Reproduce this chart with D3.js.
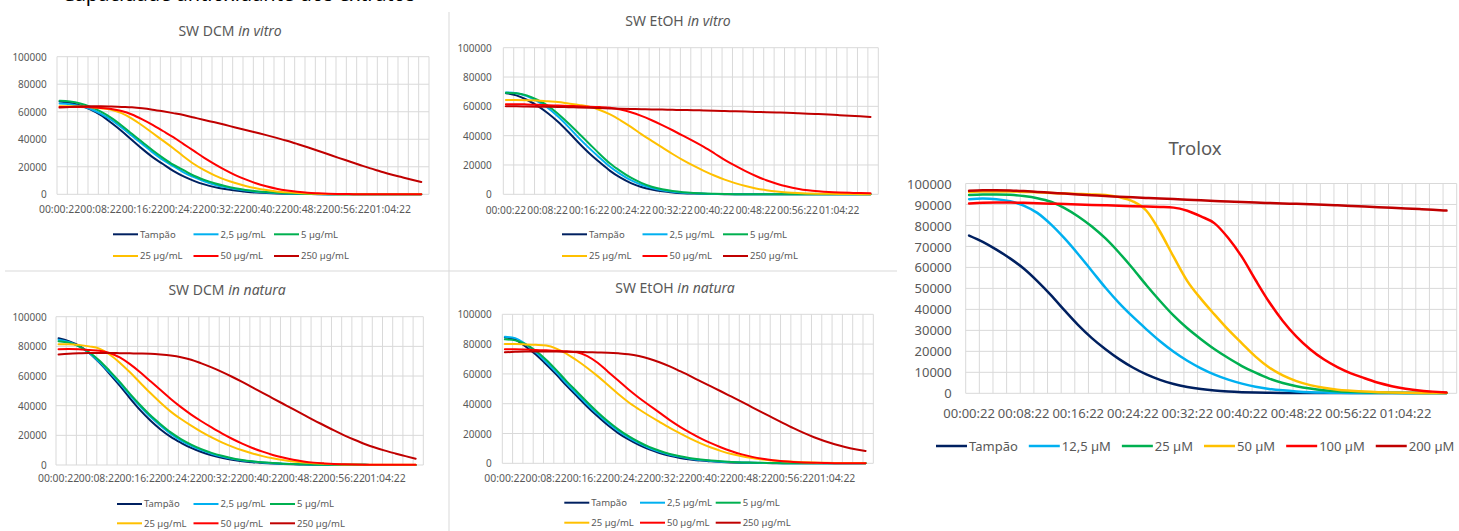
<!DOCTYPE html>
<html><head><meta charset="utf-8">
<script src="https://cdn.jsdelivr.net/npm/d3@7"></script>
<style>body{margin:0;background:#fff}svg{display:block}</style>
</head><body>
<svg id="c" width="1459" height="531"></svg>
<script>
// ---------- DATA ----------
const categories = [
"00:00:22","00:01:22","00:02:22","00:03:22","00:04:22","00:05:22","00:06:22","00:07:22","00:08:22","00:09:22",
"00:10:22","00:11:22","00:12:22","00:13:22","00:14:22","00:15:22","00:16:22","00:17:22","00:18:22","00:19:22",
"00:20:22","00:21:22","00:22:22","00:23:22","00:24:22","00:25:22","00:26:22","00:27:22","00:28:22","00:29:22",
"00:30:22","00:31:22","00:32:22","00:33:22","00:34:22","00:35:22","00:36:22","00:37:22","00:38:22","00:39:22",
"00:40:22","00:41:22","00:42:22","00:43:22","00:44:22","00:45:22","00:46:22","00:47:22","00:48:22","00:49:22",
"00:50:22","00:51:22","00:52:22","00:53:22","00:54:22","00:55:22","00:56:22","00:57:22","00:58:22","00:59:22",
"01:00:22","01:01:22","01:02:22","01:03:22","01:04:22","01:05:22","01:06:22","01:07:22","01:08:22","01:09:22",
"01:10:22","01:11:22"];
const sampleTimes = [
"00:00:22","00:02:22","00:04:22","00:06:22","00:08:22","00:10:22","00:12:22","00:14:22","00:16:22","00:18:22",
"00:20:22","00:22:22","00:24:22","00:26:22","00:28:22","00:30:22","00:32:22","00:34:22","00:36:22","00:38:22",
"00:40:22","00:42:22","00:44:22","00:46:22","00:48:22","00:50:22","00:52:22","00:54:22","00:56:22","00:58:22",
"01:00:22","01:02:22","01:04:22","01:06:22","01:08:22","01:10:22"];
const xTickLabels = ["00:00:22","00:08:22","00:16:22","00:24:22","00:32:22","00:40:22","00:48:22","00:56:22","01:04:22"];
const yTicksExtract = [0,20000,40000,60000,80000,100000];
const yTicksTrolox = [0,10000,20000,30000,40000,50000,60000,70000,80000,90000,100000];
const extractNames = ["Tampão","2,5 µg/mL","5 µg/mL","25 µg/mL","50 µg/mL","250 µg/mL"];
const troloxNames = ["Tampão","12,5 µM","25 µM","50 µM","100 µM","200 µM"];
const seriesColors = ["#002060","#00B0F0","#00B050","#FFC000","#FF0000","#C00000"];
const valueUnit = 1000; // series values below are in thousands

// SW DCM in vitro
const dcmVitro = [
[67.5,66.5,64.5,61.5,57.5,52,46,39.5,33,27,22,17,13,9.8,7.2,5.2,3.8,2.7,1.9,1.3,0.9,0.6,0.4,0.3,0.2,0.1,0.1,0.1,0,0,0,0,0,0,0,0],
[66,65.5,64,62,58.5,54,48.5,42.5,36.5,30.5,25,20.5,16,12.5,9.5,7,5.2,3.8,2.7,1.9,1.3,0.9,0.6,0.4,0.25,0.15,0.1,0.1,0.1,0,0,0,0,0,0,0],
[68,67.5,66,63.5,60,55.5,50,44,38,32,26.5,21.5,17.5,13.5,10.5,8,6,4.4,3.2,2.3,1.6,1.1,0.7,0.5,0.3,0.2,0.1,0.1,0.1,0,0,0,0,0,0,0],
[64,64,63.8,63.3,62.5,61.5,59,55,50,44.5,39,33.5,27.5,22,17.5,13.8,10.7,8.2,6.1,4.4,3.1,2.1,1.4,0.9,0.55,0.35,0.2,0.1,0.1,0.1,0,0,0,0,0,0],
[63.5,63.5,63.5,63.3,62.8,62,60.5,58,54.5,50.5,46,41.5,36.5,31.5,26.5,22,17.8,14,10.8,8,5.8,4,2.7,1.8,1.1,0.7,0.4,0.25,0.15,0.1,0.1,0,0,0,0,0],
[63,63.5,63.8,64,64,63.8,63.5,63.2,62.5,61.5,60.3,59,57.6,55.8,54,52.3,50.5,48.6,46.8,44.9,43,41,38.9,36.6,34.2,31.7,29.1,26.5,24,21.5,19,16.8,14.6,12.7,10.8,9]];

// SW EtOH in vitro
const etohVitro = [
[69,67.5,64.5,60.5,55.5,49.5,42.5,35,28,21.8,16,11.3,7.6,5,3.3,2.1,1.3,0.8,0.5,0.3,0.2,0.1,0.1,0.1,0,0,0,0,0,0,0,0,0,0,0,0],
[69.5,69,67,63.5,59,53,46,38.5,31.5,25,18.8,13.8,9.6,6.5,4.3,2.7,1.7,1.1,0.7,0.4,0.25,0.15,0.1,0,0,0,0,0,0,0,0,0,0,0,0,0],
[69.2,69,67.5,64.5,60.5,55,48.5,41.5,34.5,27.5,21,15.8,11.3,7.8,5.2,3.4,2.2,1.4,0.9,0.55,0.35,0.2,0.1,0.1,0,0,0,0,0,0,0,0,0,0,0,0],
[64.3,64.3,64.2,64,63.5,63,62,61,59.8,57.5,54.5,50.5,46,41,36.5,32,27.5,23.3,19.5,16,12.8,10,7.6,5.6,4,2.8,1.9,1.3,0.9,0.6,0.4,0.3,0.2,0.15,0.1,0.1],
[61.5,61.5,61.3,61,60.8,60.5,60.3,60,59.8,59.5,59,57.8,56,53.5,50.5,47.2,43.7,40,36.2,32.3,28,23.5,19.5,15.8,12.5,9.6,7.2,5.3,3.8,2.7,2,1.5,1.2,1,0.9,0.8],
[60,60,59.9,59.8,59.7,59.6,59.4,59.2,59,58.8,58.6,58.4,58.2,58,57.9,57.8,57.6,57.5,57.4,57.2,57,56.8,56.6,56.4,56.2,56,55.8,55.6,55.3,55,54.7,54.4,54,53.6,53.2,52.8]];

// SW DCM in natura
const dcmNatura = [
[85.5,83.5,80.5,75.5,69,61.5,53.5,45,37,30,24,19,15,11.5,8.8,6.6,4.9,3.6,2.6,1.9,1.4,1,0.7,0.5,0.35,0.25,0.2,0.1,0.1,0.1,0.1,0,0,0,0,0],
[84.5,83,80,75.5,69.5,62.5,55,47,39.5,32.5,26.5,21,16.5,13,10,7.6,5.7,4.2,3.1,2.3,1.7,1.2,0.9,0.6,0.45,0.3,0.2,0.1,0.1,0.1,0.1,0,0,0,0,0],
[83.5,82.5,80,76,70.5,63.5,56,48,40.5,33.5,27.5,22,17.5,13.8,10.7,8.2,6.2,4.6,3.4,2.5,1.8,1.3,0.9,0.65,0.45,0.3,0.2,0.1,0.1,0.1,0.1,0,0,0,0,0],
[81.5,81.5,81,80,78.5,74.5,69,62.5,55.5,48.5,42,36,31,26.5,22.3,18.6,15.3,12.4,9.9,7.8,6,4.5,3.3,2.4,1.7,1.2,0.8,0.55,0.4,0.3,0.2,0.1,0.1,0.1,0.1,0.1],
[78,78.2,78,77.5,77,75.5,72.5,68,62.5,56.5,50.5,44.5,39,34,29.5,25.3,21.3,17.7,14.4,11.5,9,6.8,5,3.5,2.4,1.6,1.1,0.7,0.5,0.35,0.25,0.2,0.15,0.1,0.1,0.1],
[74.5,75,75.3,75.5,75.5,75.5,75.4,75.3,75.2,75,74.5,73.8,72.7,71,68.5,65.8,62.8,59.5,56,52.3,48.7,45,41.3,37.6,34,30.3,26.8,23.3,20,17,14.2,11.8,9.7,7.8,6,4.2]];

// SW EtOH in natura
const etohNatura = [
[84.5,83,78.5,73,66.5,59.5,52,45,38,31.5,25.5,20.3,16,12.3,9.3,6.9,5,3.6,2.6,1.8,1.3,0.9,0.6,0.4,0.3,0.2,0.1,0.1,0.1,0,0,0,0,0,0,0],
[85,84,80,74.5,68,61,53.5,46.5,39.5,33,27,21.8,17.3,13.5,10.3,7.8,5.8,4.3,3.1,2.2,1.6,1.1,0.8,0.55,0.4,0.25,0.2,0.1,0.1,0.1,0,0,0,0,0,0],
[83.2,82.5,80,75.5,69.5,62.5,55,48,41,34.3,28.2,22.8,18.2,14.3,11,8.4,6.3,4.7,3.4,2.5,1.8,1.3,0.9,0.6,0.45,0.3,0.2,0.1,0.1,0.1,0,0,0,0,0,0],
[80,80,79.8,79.5,79,77,73.5,69,64,58.5,52.5,46.5,41,36.3,31.9,27.8,23.8,20.1,16.6,13.4,10.6,8.2,6.2,4.7,3.5,2.6,1.9,1.4,1,0.7,0.5,0.35,0.25,0.2,0.15,0.1],
[76.5,76.5,76.3,76,75.8,75.5,75.2,74.5,72,67.5,61.5,55.5,49.5,44,39,34,29,24.5,20.5,16.8,13.5,10.6,8.1,6,4.3,3,2,1.3,0.85,0.55,0.35,0.2,0.1,0.1,0.1,0.1],
[74.5,74.8,75,75,75,75,74.9,74.8,74.6,74.4,74.2,73.8,73.2,72,70.2,67.8,65,61.8,58.5,55,51.6,48.2,44.7,41.2,37.6,34,30.5,27,23.6,20.4,17.5,15,12.8,11,9.5,8.3]];

// Trolox
const trolox = [
[75.2,72.2,68.5,64.3,59.5,53.5,46.8,39.5,32.5,26.3,21,16.3,12.3,9,6.4,4.4,3,2,1.3,0.85,0.55,0.35,0.25,0.15,0.1,0.1,0.1,0.1,0.1,0.1,0.1,0.1,0.1,0.1,0.1,0.1],
[92.5,92.8,92.5,91.5,89.5,86,80.5,73.8,66.3,58.3,50.3,43,36.5,30.5,24.8,19.8,15.5,11.9,8.9,6.5,4.6,3.1,2.1,1.4,0.9,0.55,0.35,0.25,0.2,0.1,0.1,0.1,0.1,0.1,0.1,0.1],
[94.5,94.8,94.8,94.6,94,93,91.3,88.3,84.3,79.5,73.8,67,59.5,51.5,44,37,31,25.8,21,16.8,13,9.8,7,4.9,3.4,2.3,1.5,1,0.7,0.5,0.35,0.25,0.2,0.15,0.1,0.1],
[96,96.2,96.2,96.2,96,95.8,95.5,95.2,95,94.8,94.5,93.5,91.5,87,77,65,53.5,45,37.5,30.3,23.8,17.5,12.3,8.5,5.8,3.9,2.6,1.7,1.2,0.8,0.55,0.4,0.3,0.2,0.15,0.1],
[90.5,90.8,90.9,90.9,90.8,90.6,90.4,90.2,90,89.8,89.6,89.4,89.2,89,88.8,88.5,87,84.3,81,74,65,54,43.5,34.5,27,21,16.2,12.5,9.5,7.2,5,3.4,2.2,1.3,0.8,0.4],
[96.5,96.8,96.8,96.7,96.4,96,95.6,95.2,94.8,94.4,94,93.7,93.4,93.1,92.8,92.6,92.3,92,91.7,91.4,91.2,90.9,90.7,90.5,90.3,90.1,89.9,89.6,89.3,89,88.7,88.4,88.1,87.8,87.5,87.1]];

// ---------- DRAWING ----------
const FONT = "'Noto Sans', 'Open Sans', sans-serif";
const TXT = "#595959";
const GRID = "#d9d9d9";
const svg = d3.select("#c");

// heading cropped at the very top (as in the source screenshot)
svg.append("text").attr("x",62).attr("y",1).attr("font-family",FONT).attr("font-size",20)
  .attr("fill","#000").text("Capacidade antioxidante dos extratos");

// panel separators
svg.append("line").attr("x1",449).attr("x2",449).attr("y1",12).attr("y2",531).attr("stroke",GRID);
svg.append("line").attr("x1",5).attr("x2",897).attr("y1",271).attr("y2",271).attr("stroke",GRID);

function drawChart(cfg){
  const g = svg.append("g");
  const x = d3.scaleBand().domain(categories).range([cfg.L,cfg.R]).padding(0);
  const y = d3.scaleLinear().domain([0,100000]).range([cfg.B,cfg.T]);

  // gridlines
  g.selectAll("line.h").data(cfg.yTicks).join("line").attr("class","h")
    .attr("x1",cfg.L).attr("x2",cfg.R).attr("y1",d=>y(d)).attr("y2",d=>y(d))
    .attr("stroke",GRID).attr("stroke-width",1);
  const vCats = categories.filter((d,i)=>i%2===0);
  g.selectAll("line.v").data(vCats).join("line").attr("class","v")
    .attr("x1",d=>x(d)).attr("x2",d=>x(d)).attr("y1",cfg.T).attr("y2",cfg.B)
    .attr("stroke",GRID).attr("stroke-width",1);
  g.append("line").attr("x1",cfg.R).attr("x2",cfg.R).attr("y1",cfg.T).attr("y2",cfg.B)
    .attr("stroke",GRID).attr("stroke-width",1);

  // y axis
  const ya = g.append("g").attr("transform",`translate(${cfg.L},0)`)
    .call(d3.axisLeft(y).tickValues(cfg.yTicks).tickSize(0).tickPadding(cfg.yPad).tickFormat(d3.format("d")));
  ya.select(".domain").remove();
  ya.attr("font-family",FONT).attr("font-size",cfg.fs);
  ya.selectAll("text").attr("fill",TXT).attr("dy","0.35em");

  // x axis
  const xa = g.append("g").attr("transform",`translate(0,${cfg.B})`)
    .call(d3.axisBottom(x).tickValues(xTickLabels).tickSize(0));
  xa.select(".domain").remove();
  xa.attr("font-family",FONT).attr("font-size",cfg.xfs);
  xa.selectAll("text").attr("fill",TXT).attr("y",cfg.xLabY-cfg.B).attr("dy","0.35em");

  // series
  const line = d3.line()
    .x((d,j)=>x(sampleTimes[j])+x.bandwidth()/2)
    .y(d=>y(d*valueUnit))
    .curve(d3.curveMonotoneX);
  cfg.data.forEach((vals,k)=>{
    g.append("path").attr("d",line(vals)).attr("fill","none")
      .attr("stroke",seriesColors[k]).attr("stroke-width",cfg.lw)
      .attr("stroke-linecap","round").attr("stroke-linejoin","round");
  });

  // title
  const t = g.append("text").attr("x",cfg.titleX).attr("y",cfg.titleY).attr("dy","0.35em")
    .attr("text-anchor","middle").attr("font-family",FONT).attr("font-size",cfg.titleFs).attr("fill",TXT);
  t.append("tspan").text(cfg.title[0]);
  if(cfg.title[1]) t.append("tspan").attr("font-style","italic").text(cfg.title[1]);

  // legend
  const lg = g.append("g").attr("font-family",FONT).attr("font-size",cfg.legFs);
  if(cfg.legRows){
    cfg.names.forEach((name,k)=>{
      const col=k%3,row=Math.floor(k/3);
      const lx=cfg.legX+col*cfg.legColW, ly=cfg.legRows[row];
      lg.append("line").attr("x1",lx).attr("x2",lx+25).attr("y1",ly).attr("y2",ly)
        .attr("stroke",seriesColors[k]).attr("stroke-width",cfg.lw);
      lg.append("text").attr("x",lx+27).attr("y",ly).attr("dy","0.35em").attr("fill",TXT).text(name);
    });
  } else {
    let cur = cfg.legX;
    cfg.names.forEach((name,k)=>{
      lg.append("line").attr("x1",cur).attr("x2",cur+31).attr("y1",cfg.legY).attr("y2",cfg.legY)
        .attr("stroke",seriesColors[k]).attr("stroke-width",cfg.lw);
      const tx = lg.append("text").attr("x",cur+33).attr("y",cfg.legY).attr("dy","0.35em").attr("fill",TXT).text(name);
      cur += 33 + tx.node().getComputedTextLength() + 11;
    });
  }
}

drawChart({data:dcmVitro, names:extractNames, title:["SW DCM ","in vitro"],
  L:57,R:429,T:56.7,B:194.3, yTicks:yTicksExtract, yPad:10.3, fs:10, xfs:10.4, xLabY:209.3,
  titleX:230,titleY:31,titleFs:14, lw:2, legFs:9.5, legX:113, legColW:80.5, legRows:[234.3,256]});
drawChart({data:etohVitro, names:extractNames, title:["SW EtOH ","in vitro"],
  L:503.3,R:878.3,T:47.7,B:194.3, yTicks:yTicksExtract, yPad:11.6, fs:10, xfs:10.2, xLabY:210.7,
  titleX:678,titleY:20.7,titleFs:14, lw:2, legFs:9.5, legX:562, legColW:80.5, legRows:[234.3,256]});
drawChart({data:dcmNatura, names:extractNames, title:["SW DCM ","in natura"],
  L:56,R:423.3,T:316.7,B:465, yTicks:yTicksExtract, yPad:9.3, fs:10, xfs:10.4, xLabY:478.3,
  titleX:227,titleY:290.3,titleFs:14, lw:2, legFs:9.5, legX:117, legColW:76.5, legRows:[504,523.3]});
drawChart({data:etohNatura, names:extractNames, title:["SW EtOH ","in natura"],
  L:502.3,R:873.3,T:314.3,B:463.3, yTicks:yTicksExtract, yPad:10.6, fs:10, xfs:10.4, xLabY:478.3,
  titleX:675,titleY:287.7,titleFs:14, lw:2, legFs:9.5, legX:564.3, legColW:75.7, legRows:[502.7,522.7]});
drawChart({data:trolox, names:troloxNames, title:["Trolox"],
  L:965.7,R:1456.7,T:183.5,B:393.3, yTicks:yTicksTrolox, yPad:14, fs:13, xfs:13, xLabY:413.3,
  titleX:1195,titleY:149,titleFs:18.5, lw:2.5, legFs:13, legX:936, legY:446});
</script>
</body></html>
